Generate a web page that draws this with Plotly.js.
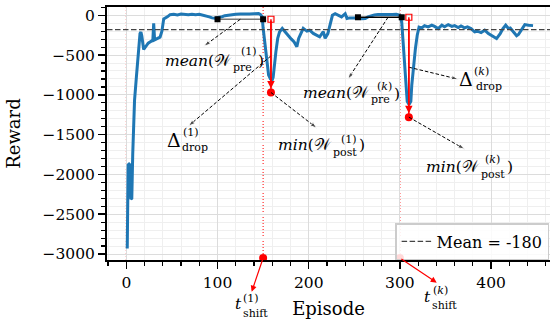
<!DOCTYPE html>
<html><head><meta charset="utf-8">
<script src="https://cdn.plot.ly/plotly-3.0.1.min.js"></script>
<style>body{margin:0;background:#fff}#chart{width:550px;height:327px}</style>
</head><body><div id="chart"></div>
<script>
// ---------------- data ----------------
const episodes = [1,2,3,4,5,6,7,8,9,11,13,15,16,17,19,21,23,24,26,28,29,30,31,34,37,39,41,45,48,52,56,60,64,68,72,76,80,84,87,91,94,97,99,102,105,108,112,116,120,125,130,135,140,145,147,149,150,151,153,155,156,158,160,161,162,164,166,168,171,174,178,181,184,187,189,191,194,198,201,205,209,212,216,218,221,224,226,229,232,236,240,242,245,250,254,258,262,265,269,272,276,280,284,288,292,296,298,300,302,304,305,307,308,310,311,312,313,315,317,319,321,324,327,331,335,338,342,346,349,353,357,360,364,367,371,374,378,382,385,389,393,397,402,406,410,413,416,419,421,424,428,430,433,437,441,444,446];
const rewards = [-2930,-1880,-1870,-1880,-2310,-2300,-1750,-1350,-1070,-780,-480,-230,-210,-260,-430,-400,-360,-350,-335,-320,-330,-100,-310,-295,-275,-200,-45,-20,8,12,5,15,10,6,14,8,12,2,-8,-20,-33,-38,-30,-25,-18,-5,3,9,14,16,21,17,20,21,10,-20,-160,-260,-420,-625,-750,-800,-810,-780,-640,-460,-290,-210,-165,-205,-270,-300,-335,-395,-290,-230,-165,-200,-188,-228,-250,-270,-205,-290,-230,-105,0,20,0,-20,20,-40,-33,-33,-33,-45,-42,-20,0,5,10,8,12,10,9,12,5,0,-85,-380,-620,-910,-1080,-1120,-1100,-1080,-880,-620,-420,-250,-148,-158,-132,-146,-124,-140,-167,-124,-145,-117,-140,-130,-154,-135,-158,-145,-167,-208,-200,-217,-188,-229,-270,-292,-230,-167,-125,-167,-160,-208,-258,-242,-188,-117,-125,-133,-130];
const meanReward = -180;
const shiftLines = [0, 150, 300];
const shiftEpisodes = [150, 300];
const shiftMarkerReward = -3050;
const preStart = [100, 254];
const preEnd = [150, 302];
const preMean = [-50, -25];
const minEpisode = [158.6, 309.8];
const minReward = [-970, -1280];
const xTickVals = [0, 100, 200, 300, 400];
const yTickVals = [0, -500, -1000, -1500, -2000, -2500, -3000];
const xRange = [-21.2, 464.6];
const yRange = [-3075, 104];

// ---------------- layout helpers ----------------
const L = 107, T = 7, PW = 443, PH = 253;
const px2paperX = p => (p - L) / PW;
const px2paperY = p => (T + PH - p) / PH;
const FONT = 'DejaVu Serif';
const W = '𝒲';

const traces = [];
traces.push({x: episodes, y: rewards, mode: 'lines', line: {color: '#1f77b4', width: 3}, showlegend: false, hoverinfo: 'skip'});
traces.push({x: xRange, y: [meanReward, meanReward], mode: 'lines', name: 'Mean = ' + meanReward,
  line: {color: '#444', width: 1.3, dash: '5.5px,2.5px'}});
const preColors = ['#777', '#000'];
for (let k = 0; k < 2; k++) {
  traces.push({x: [preStart[k], preEnd[k]], y: [preMean[k], preMean[k]], mode: 'lines+markers',
    line: {color: preColors[k], width: 1.5}, marker: {symbol: 'square', size: 6, color: '#000'}, showlegend: false});
  traces.push({x: [minEpisode[k], minEpisode[k]], y: [preMean[k], minReward[k]], mode: 'lines',
    line: {color: 'red', width: 1.5}, showlegend: false});
  traces.push({x: [minEpisode[k]], y: [preMean[k]], mode: 'markers',
    marker: {symbol: 'square-open', size: 6, color: 'red', line: {width: 1.2, color: 'red'}}, showlegend: false});
  traces.push({x: [minEpisode[k]], y: [minReward[k]], mode: 'markers',
    marker: {symbol: 'circle', size: 8, color: 'red'}, showlegend: false});
}
traces.push({x: shiftEpisodes, y: shiftEpisodes.map(() => shiftMarkerReward), mode: 'markers', cliponaxis: false,
  marker: {symbol: 'circle', size: 8, color: 'red'}, showlegend: false});

// dashed pointer arrows: [fromX, fromY, toX, toY]
const dashedArrows = [
  [(preStart[0] + preEnd[0]) / 2, preMean[0], 85, -389],
  [minEpisode[0], (preMean[0] + minReward[0]) / 2, 68, -1393],
  [minEpisode[0], minReward[0], 209, -1418],
  [287, preMean[1], 243, -803],
  [minEpisode[1], (preMean[1] + minReward[1]) / 2, 364, -803],
  [minEpisode[1], minReward[1], 371, -1682],
];
dashedArrows.forEach(a => {
  traces.push({x: [a[0], a[2]], y: [a[1], a[3]], mode: 'lines+markers', showlegend: false,
    line: {color: '#000', width: 1, dash: '3.5px,2px'},
    marker: {symbol: ['circle', 'arrow'], size: [0, 7], color: '#000', angleref: 'previous'}});
});

const shapes = shiftLines.map(v => ({type: 'line', xref: 'x', yref: 'paper', x0: v, x1: v, y0: 0, y1: 1,
  layer: 'between', line: {color: 'red', width: 1, dash: '1px,2px'}}));

const annotations = [];
for (let k = 0; k < 2; k++) {
  annotations.push({x: minEpisode[k], y: minReward[k], ax: minEpisode[k], ay: preMean[k], axref: 'x', ayref: 'y',
    xref: 'x', yref: 'y', text: '', showarrow: true, arrowcolor: 'red', arrowwidth: 1.5, arrowhead: 2, arrowsize: 1, standoff: 4});
}
const shiftArrowHeads = [[251.7, 291.7], [436.7, 282.7]];
shiftEpisodes.forEach((ep, k) => {
  const hx = shiftArrowHeads[k][0], hy = shiftArrowHeads[k][1];
  const dotX = L + (ep - xRange[0]) / (xRange[1] - xRange[0]) * PW;
  const dotY = T + (yRange[1] - shiftMarkerReward) / (yRange[1] - yRange[0]) * PH;
  annotations.push({xref: 'paper', yref: 'paper', x: px2paperX(hx), y: px2paperY(hy), ax: dotX - hx, ay: dotY - hy,
    text: '', showarrow: true, arrowcolor: 'red', arrowwidth: 1.2, arrowhead: 2, arrowsize: 1, standoff: 0});
});

// label pieces: main text (right end at script start), superscript, subscript, closing paren
const labelSpecs = [
  {main: '<i>mean</i>(' + W, my: 61, sup: '(1)', sx: 240, sy: 52, sub: 'pre', bx: 232, by: 67, tail: ')', ty: 61},
  {main: 'Δ', my: 140, sup: '(1)', sx: 182, sy: 132, sub: 'drop', bx: 181, by: 147, ms: 19},
  {main: '<i>min</i>(' + W, my: 145, sup: '(1)', sx: 340, sy: 139, sub: 'post', bx: 332, by: 152, tail: ')', ty: 145},
  {main: '<i>mean</i>(' + W, my: 93, sup: '(<i>k</i>)', sx: 376, sy: 86, sub: 'pre', bx: 370, by: 99, tail: ')', ty: 94},
  {main: 'Δ', my: 79, sup: '(<i>k</i>)', sx: 473, sy: 71, sub: 'drop', bx: 475, by: 87, ms: 19},
  {main: '<i>min</i>(' + W, my: 167, sup: '(<i>k</i>)', sx: 484, sy: 159, sub: 'post', bx: 480, by: 174, tail: ')', ty: 167},
  {main: '<i>t</i>', my: 304, sup: '(1)', sx: 242, sy: 298, sub: 'shift', bx: 242, by: 313},
  {main: '<i>t</i>', my: 297, sup: '(<i>k</i>)', sx: 432, sy: 290, sub: 'shift', bx: 431, by: 305},
];
function txt(text, x, y, size, anchor) {
  annotations.push({xref: 'paper', yref: 'paper', x: px2paperX(x), y: px2paperY(y), xanchor: anchor || 'left', yanchor: 'middle',
    text: text, showarrow: false, font: {family: FONT, size: size, color: '#000'}, borderpad: 0});
  return annotations.length - 1;
}
const labelIdx = [];
labelSpecs.forEach(s => {
  const idx = {};
  idx.main = txt(s.main, Math.min(s.sx, s.bx) + 0.5, s.my, s.ms || 15.5, 'right');
  idx.sup = txt(s.sup, s.sx, s.sy, 11);
  idx.sub = txt(s.sub, s.bx, s.by, 11);
  if (s.tail) idx.tail = txt(s.tail, Math.max(s.sx, s.bx) + 16, s.ty, 15.5);
  labelIdx.push(idx);
});

const layout = {
  width: 550, height: 327,
  margin: {l: L, r: 550 - L - PW, t: T, b: 327 - T - PH, pad: 0},
  paper_bgcolor: '#fff', plot_bgcolor: '#fff',
  font: {family: FONT, color: '#000'},
  showlegend: true,
  legend: {x: 0.998, xanchor: 'right', y: 0.0, yanchor: 'bottom', bgcolor: 'rgba(255,255,255,0.85)',
    bordercolor: '#cccccc', borderwidth: 1.5, font: {family: FONT, size: 16, color: '#000'}},
  xaxis: {range: xRange, tickvals: xTickVals, ticktext: xTickVals.map(String), ticks: 'outside', ticklen: 7, tickwidth: 1.5,
    tickcolor: '#000', showline: true, linewidth: 2, linecolor: '#000', mirror: true, zeroline: false,
    showgrid: true, gridcolor: '#dcdcdc', gridwidth: 1,
    minor: {dtick: 20, tick0: 0, ticks: 'outside', ticklen: 4, tickwidth: 1.2, tickcolor: '#000', showgrid: true, gridcolor: '#efefef'},
    tickfont: {family: FONT, size: 15.5, color: '#000'},
    title: {text: 'Episode', font: {family: FONT, size: 18, color: '#000'}, standoff: 12}},
  yaxis: {range: yRange, tickvals: yTickVals, ticks: 'outside', ticklen: 7, tickwidth: 1.5, tickcolor: '#000',
    showline: true, linewidth: 2, linecolor: '#000', mirror: false, zeroline: false,
    showgrid: true, gridcolor: '#dcdcdc', gridwidth: 1,
    minor: {dtick: 100, tick0: 0, ticks: 'outside', ticklen: 4, tickwidth: 1.2, tickcolor: '#000', showgrid: true, gridcolor: '#efefef'},
    tickfont: {family: FONT, size: 15.5, color: '#000'},
    title: {text: 'Reward', font: {family: FONT, size: 18, color: '#000'}, standoff: 17}},
  shapes: shapes,
  annotations: annotations
};
Plotly.newPlot('chart', traces, layout, {displayModeBar: false, staticPlot: true}).then(gd => {
  // place the closing parenthesis right after the rendered scripts
  const boxOf = i => {
    const n = gd.querySelector('.annotation[data-index="' + i + '"] .annotation-text');
    return n ? n.getBoundingClientRect() : null;
  };
  const upd = {};
  labelIdx.forEach(li => {
    if (li.tail === undefined) return;
    const a = boxOf(li.sup), b = boxOf(li.sub);
    if (!a || !b) return;
    upd['annotations[' + li.tail + '].x'] = px2paperX(Math.max(a.right, b.right) + 0.5);
  });
  if (Object.keys(upd).length) Plotly.relayout(gd, upd);
});
</script>
</body></html>
